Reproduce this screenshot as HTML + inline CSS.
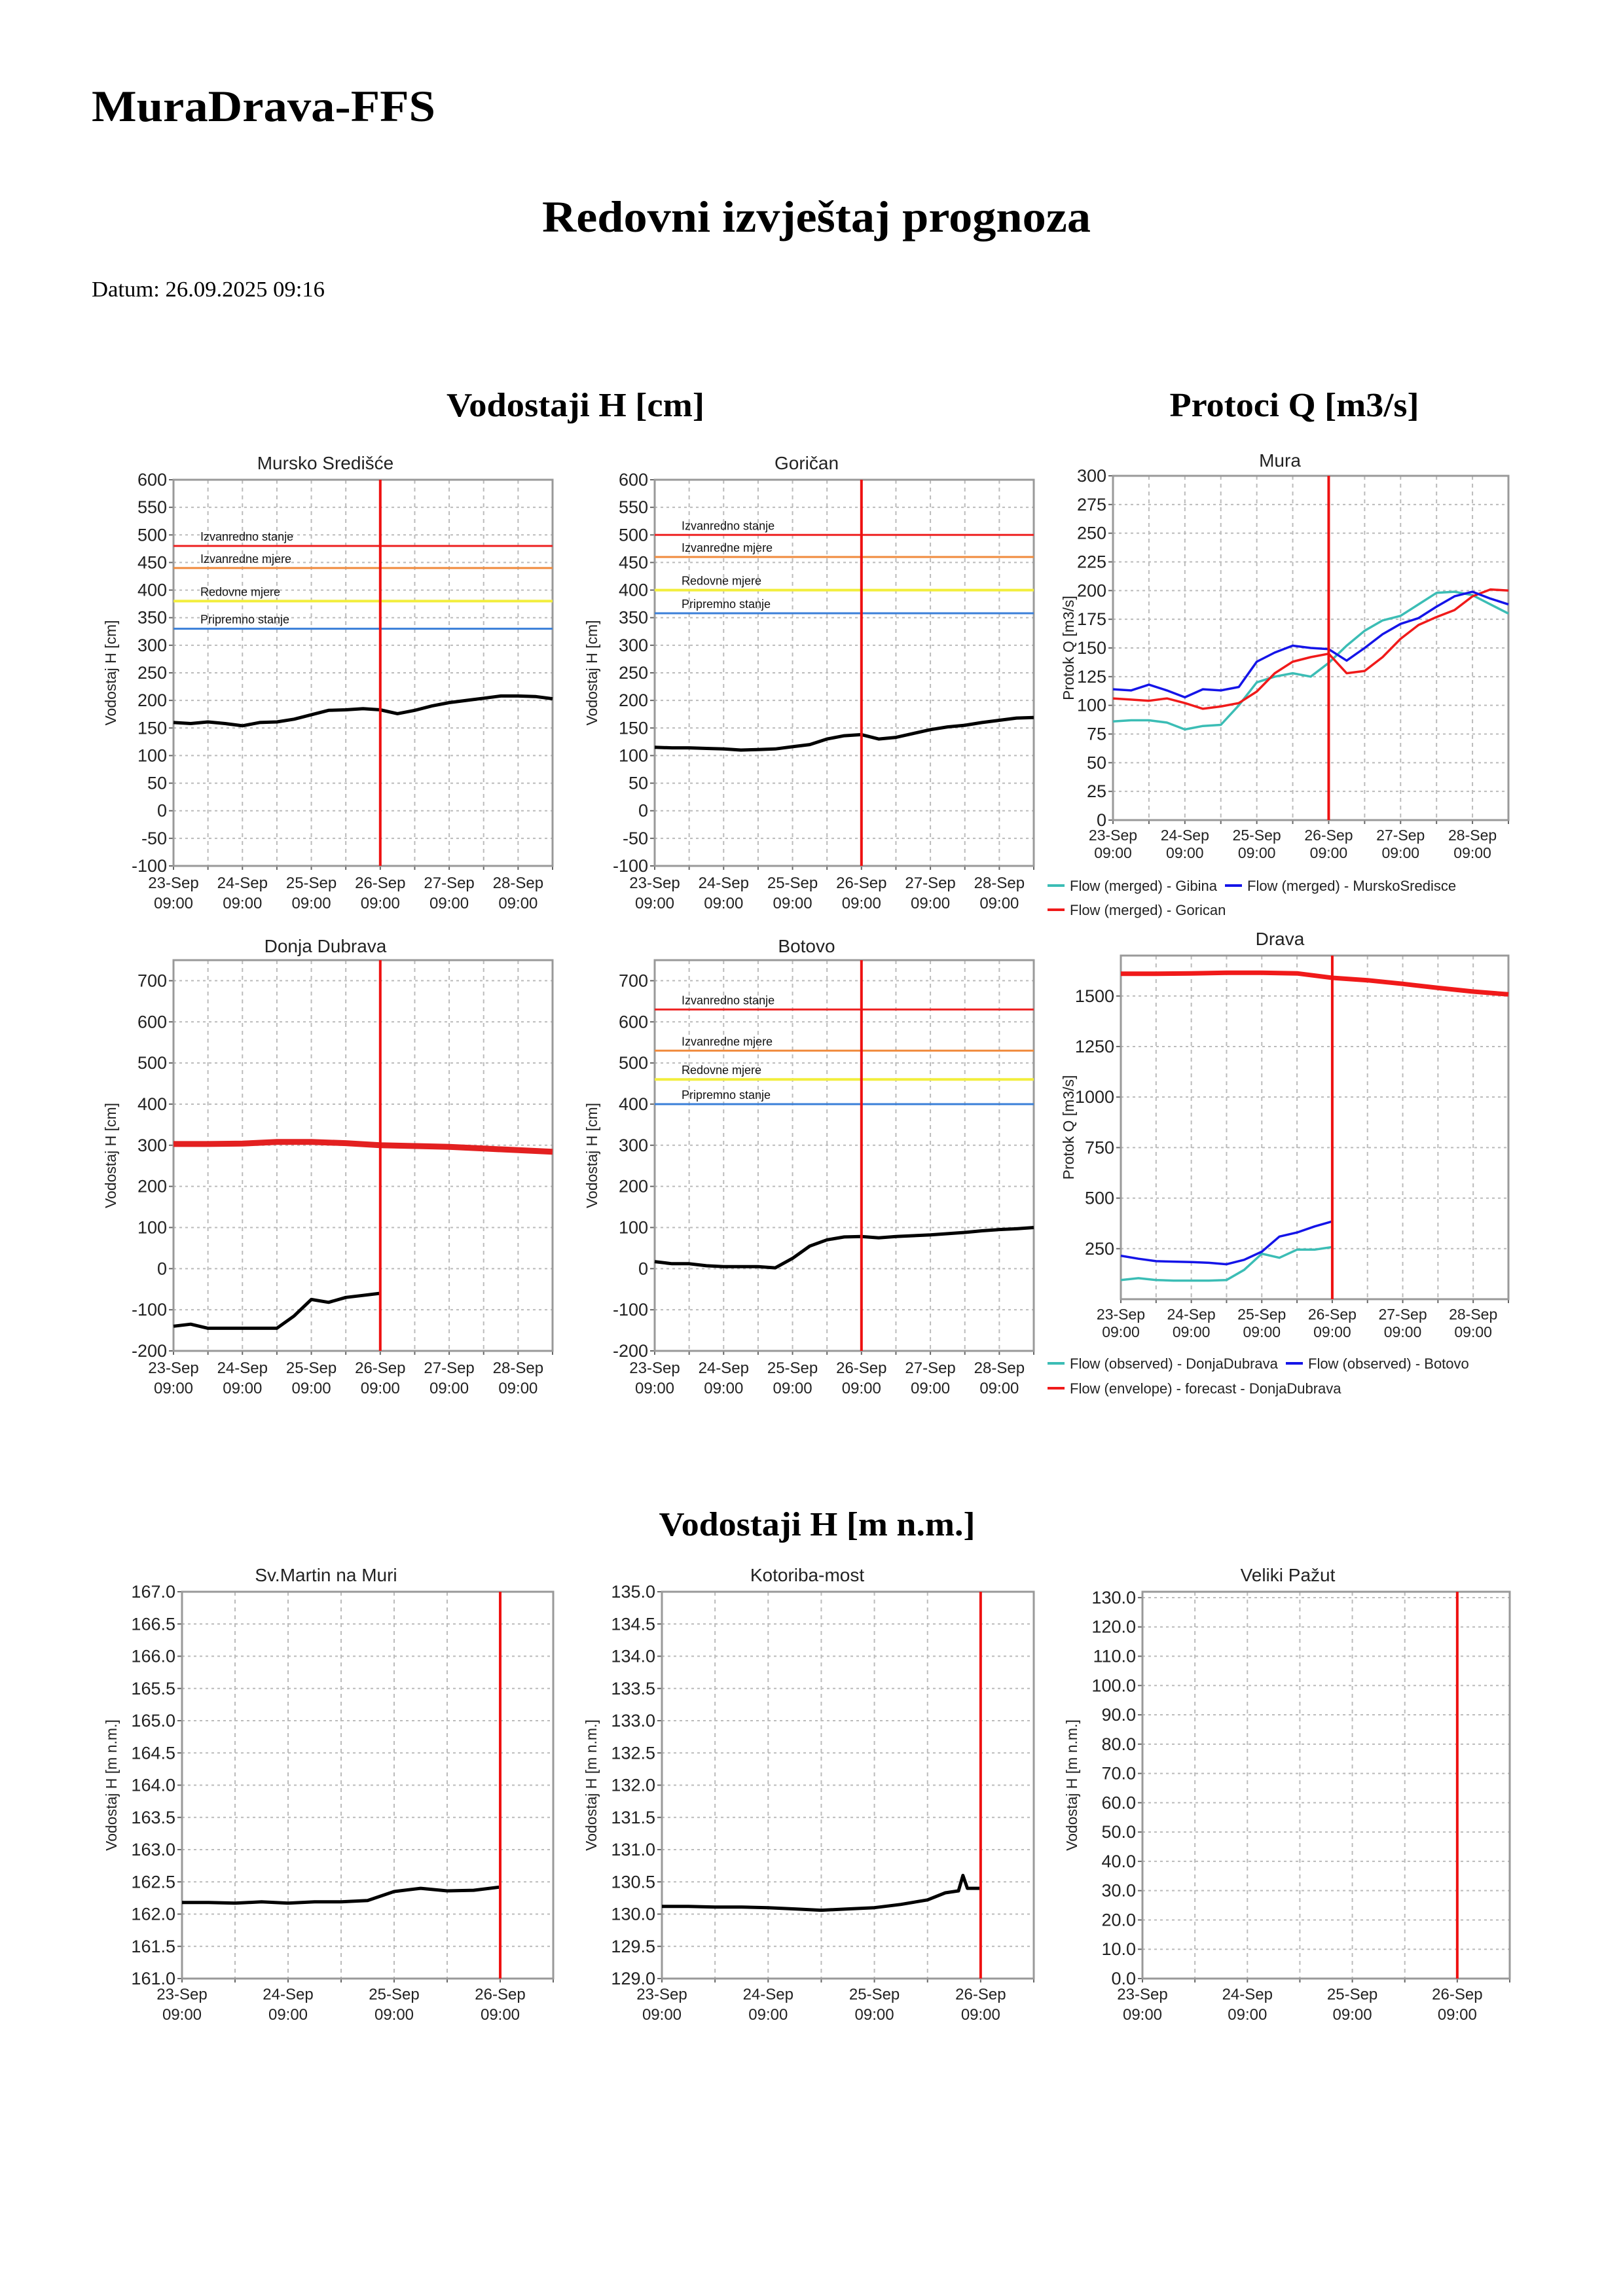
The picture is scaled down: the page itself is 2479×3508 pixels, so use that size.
<!DOCTYPE html>
<html><head><meta charset="utf-8">
<style>
html,body{margin:0;padding:0;background:#fff;}
svg{display:block;}
text{font-family:"Liberation Sans",sans-serif;}
.serif{font-family:"Liberation Serif",serif;font-weight:bold;}
</style></head>
<body>
<svg id="page" xmlns="http://www.w3.org/2000/svg" width="2479" height="3508" viewBox="0 0 2479 3508">
<rect width="2479" height="3508" fill="#fff"/>
<text class="serif" x="140" y="185" font-size="68" textLength="525" lengthAdjust="spacingAndGlyphs">MuraDrava-FFS</text>
<text class="serif" x="1247" y="354" font-size="68" text-anchor="middle" textLength="838" lengthAdjust="spacingAndGlyphs">Redovni izvještaj prognoza</text>
<text x="140" y="453" font-size="34" textLength="356" lengthAdjust="spacingAndGlyphs" style="font-family:'Liberation Serif',serif">Datum: 26.09.2025 09:16</text>
<text class="serif" x="879" y="636" font-size="52" text-anchor="middle" textLength="394" lengthAdjust="spacingAndGlyphs">Vodostaji H [cm]</text>
<text class="serif" x="1977" y="636" font-size="52" text-anchor="middle" textLength="381" lengthAdjust="spacingAndGlyphs">Protoci Q [m3/s]</text>
<text class="serif" x="1248" y="2346" font-size="52" text-anchor="middle" textLength="483" lengthAdjust="spacingAndGlyphs">Vodostaji H [m n.m.]</text>
<g id="charts"></g>
</svg>
<script>
// ---- data (hours since 23-Sep 09:00) ----
const daysTop = ['23-Sep','24-Sep','25-Sep','26-Sep','27-Sep','28-Sep'];
const daysBottom = ['23-Sep','24-Sep','25-Sep','26-Sep'];
const hours6 = [0,6,12,18,24,30,36,42,48,54,60,66,72,78,84,90,96,102,108,114,120,126,132];
const hours6obs = [0,6,12,18,24,30,36,42,48,54,60,66,72];
const hours12 = [0,12,24,36,48,60,72,84,96,108,120,132];

const murskoH = [160,158,161,158,154,160,161,166,174,182,183,185,183,176,182,190,196,200,204,208,208,207,203];
const goricanH = [115,114,114,113,112,110,111,112,116,120,130,136,138,130,133,140,147,152,155,160,164,168,169];
const murskoThresholds = [480,440,380,330];
const goricanThresholds = [500,460,400,358];
const botovoThresholds = [630,530,460,400];
const thresholdNames = ['Izvanredno stanje','Izvanredne mjere','Redovne mjere','Pripremno stanje'];

const muraGibina = [86,87,87,85,79,82,83,100,120,125,128,125,137,152,165,174,178,188,198,199,196,188,180];
const muraMursko = [114,113,118,113,107,114,113,116,138,146,152,150,149,139,150,162,171,176,186,195,199,193,188];
const muraGorican = [106,105,104,106,102,97,99,102,112,128,138,142,145,128,130,142,158,170,177,183,195,201,200];

const donjaObsH = [-140,-135,-145,-145,-145,-145,-145,-115,-75,-82,-70,-65,-60];
const donjaFcH = [303,303,304,308,308,305,300,298,296,292,288,284];
const botovoH = [17,12,12,7,5,5,5,2,25,55,70,77,78,75,78,80,82,85,88,92,95,97,100];

const dravaDonjaObs = [95,104,95,92,92,92,95,145,225,205,245,245,258];
const dravaBotovoObs = [215,200,188,186,184,180,173,195,235,310,330,360,385];
const dravaForecast = [1610,1610,1612,1615,1615,1612,1590,1578,1560,1540,1522,1508];

const svMartinH = [162.18,162.18,162.17,162.19,162.17,162.19,162.19,162.21,162.35,162.40,162.36,162.37,162.42];
const kotoribaHours = [0,6,12,18,24,30,36,42,48,54,60,64,67,68,69,72];
const kotoribaH = [130.12,130.12,130.11,130.11,130.10,130.08,130.06,130.08,130.10,130.15,130.22,130.33,130.36,130.60,130.40,130.40];

const yTicksMursko = [-100,-50,0,50,100,150,200,250,300,350,400,450,500,550,600];
const yTicksDonja = [-200,-100,0,100,200,300,400,500,600,700];
const yTicksMura = [0,25,50,75,100,125,150,175,200,225,250,275,300];
const yTicksDrava = [250,500,750,1000,1250,1500];
const yTicksSv = [161,161.5,162,162.5,163,163.5,164,164.5,165,165.5,166,166.5,167];
const yTicksKot = [129,129.5,130,130.5,131,131.5,132,132.5,133,133.5,134,134.5,135];
const yTicksVel = [0,10,20,30,40,50,60,70,80,90,100,110,120,130];

const NS='http://www.w3.org/2000/svg';
const root=document.getElementById('charts');
function mk(tag,attrs,parent){const e=document.createElementNS(NS,tag);for(const k in attrs)e.setAttribute(k,attrs[k]);(parent||root).appendChild(e);return e;}

function chart(c){
  const g=mk('g',{});
  
  
  const X=h=>c.l+(h/c.xmax)*(c.r-c.l);
  const Y=v=>c.b-(v-c.ymin)/(c.ymax-c.ymin)*(c.b-c.t);
  for(let h=0;h<=c.xmax;h+=12){
    const ln=mk('line',{x1:X(h),x2:X(h),y1:c.t,y2:c.b,stroke:'#bbb','stroke-width':2,'stroke-dasharray':'6,6'},g);
    
    
    const tk=mk('line',{x1:X(h),x2:X(h),y1:c.b,y2:c.b+6,stroke:'#666','stroke-width':2},g);
    
    
  }
  c.yticks.forEach(v=>{
    const ln=mk('line',{x1:c.l,x2:c.r,y1:Y(v),y2:Y(v),stroke:'#bbb','stroke-width':2,'stroke-dasharray':'4,5'},g);
    
    
    mk('line',{x1:c.l-7,x2:c.l,y1:Y(v),y2:Y(v),stroke:'#666','stroke-width':2},g);
    const t=mk('text',{x:c.l-10,y:Y(v)+9,'font-size':27,'text-anchor':'end',fill:'#222'},g);
    
    
    t.textContent=c.fmt?c.fmt(v):String(v);
  });
  const fr=mk('rect',{x:c.l,y:c.t,width:c.r-c.l,height:c.b-c.t,fill:'none',stroke:'#999','stroke-width':3},g);
  
  
  c.days.forEach((d,i)=>{
    const x=X(i*24);
    const t1=mk('text',{x:x,y:c.b+c.xl1,'font-size':c.xfs,'text-anchor':'middle',fill:'#222'},g);
    
    
    t1.textContent=d;
    const t2=mk('text',{x:x,y:c.b+c.xl2,'font-size':c.xfs,'text-anchor':'middle',fill:'#222'},g);
    
    
    t2.textContent='09:00';
  });
  const tt=mk('text',{x:c.tx,y:c.ty,'font-size':28,'text-anchor':'middle',fill:'#222'},g);
  
  
  tt.textContent=c.title;
  const yt=mk('text',{x:0,y:0,'font-size':23,'text-anchor':'middle',fill:'#222',transform:`translate(${c.l-c.yto},${(c.t+c.b)/2}) rotate(-90)`},g);
  
  
  yt.textContent=c.ytitle;
  if(c.th){
    const cols=['#ee2222','#f08a3c','#f2ee3c','#3a7fd8'];
    c.th.forEach((v,i)=>{
      const ln=mk('line',{x1:c.l,x2:c.r,y1:Y(v),y2:Y(v),stroke:cols[i],'stroke-width':i==2?4:3},g);
      
      
      const t=mk('text',{x:c.l+41,y:Y(v)-8,'font-size':18,fill:'#111'},g);
      
      
      t.textContent=thresholdNames[i];
    });
  }
  c.series.forEach(s=>{
    const pts=s.h.map((h,i)=>X(h).toFixed(1)+','+Y(s.v[i]).toFixed(1)).join(' ');
    const pl=mk('polyline',{points:pts,fill:'none',stroke:s.col,'stroke-width':s.w,'stroke-linejoin':'round'},g);
    
    
  });
  const nl=mk('line',{x1:X(72),x2:X(72),y1:c.t,y2:c.b,stroke:'#ee1111','stroke-width':4},g);
  
  
}

const topH={xmax:132,days:daysTop,xl1:34,xl2:65,xfs:24};
chart(Object.assign({name:'chart-mursko-sredisce',l:265,r:844,t:733,b:1323,ymin:-100,ymax:600,yticks:yTicksMursko,title:'Mursko Središće',tx:497,ty:717,ytitle:'Vodostaj H [cm]',yto:88,th:murskoThresholds,
  series:[{name:'series-mursko-h',h:hours6,v:murskoH,col:'#000',w:5}]},topH));
chart(Object.assign({name:'chart-gorican',l:1000,r:1579,t:733,b:1323,ymin:-100,ymax:600,yticks:yTicksMursko,title:'Goričan',tx:1232,ty:717,ytitle:'Vodostaj H [cm]',yto:88,th:goricanThresholds,
  series:[{name:'series-gorican-h',h:hours6,v:goricanH,col:'#000',w:5}]},topH));
chart(Object.assign({name:'chart-mura-flow',l:1700,r:2304,t:727,b:1253,ymin:0,ymax:300,yticks:yTicksMura,title:'Mura',tx:1955,ty:713,ytitle:'Protok Q [m3/s]',yto:60,
  series:[{name:'series-gibina',h:hours6,v:muraGibina,col:'#3bbdb5',w:3.5},{name:'series-gorican-q',h:hours6,v:muraGorican,col:'#f01a1a',w:3.5},{name:'series-murskosredisce-q',h:hours6,v:muraMursko,col:'#1414e8',w:3.5}]},{xmax:132,days:daysTop,xl1:31,xl2:58,xfs:23}));
chart(Object.assign({name:'chart-donja-dubrava',l:265,r:844,t:1467,b:2064,ymin:-200,ymax:750,yticks:yTicksDonja,title:'Donja Dubrava',tx:497,ty:1455,ytitle:'Vodostaj H [cm]',yto:88,
  series:[{name:'series-donja-forecast',h:hours12,v:donjaFcH,col:'#e32020',w:9},{name:'series-donja-observed',h:hours6obs,v:donjaObsH,col:'#000',w:5}]},topH));
chart(Object.assign({name:'chart-botovo',l:1000,r:1579,t:1467,b:2064,ymin:-200,ymax:750,yticks:yTicksDonja,title:'Botovo',tx:1232,ty:1455,ytitle:'Vodostaj H [cm]',yto:88,th:botovoThresholds,
  series:[{name:'series-botovo-h',h:hours6,v:botovoH,col:'#000',w:5}]},topH));
chart(Object.assign({name:'chart-drava-flow',l:1712,r:2304,t:1460,b:1985,ymin:0,ymax:1700,yticks:yTicksDrava,title:'Drava',tx:1955,ty:1444,ytitle:'Protok Q [m3/s]',yto:72,
  series:[{name:'series-drava-forecast',h:hours12,v:dravaForecast,col:'#f01a1a',w:7},{name:'series-donja-q-obs',h:hours6obs,v:dravaDonjaObs,col:'#3bbdb5',w:3.5},{name:'series-botovo-q-obs',h:hours6obs,v:dravaBotovoObs,col:'#1414e8',w:3.5}]},{xmax:132,days:daysTop,xl1:31,xl2:58,xfs:23}));
const bot={xmax:84,days:daysBottom,xl1:32,xl2:63,xfs:24,t:2432,b:3023};
chart(Object.assign({name:'chart-sv-martin',l:278,r:845,ymin:161,ymax:167,yticks:yTicksSv,fmt:v=>v.toFixed(1),title:'Sv.Martin na Muri',tx:498,ty:2416,ytitle:'Vodostaj H [m n.m.]',yto:100,
  series:[{name:'series-svmartin-h',h:hours6obs,v:svMartinH,col:'#000',w:5}]},bot));
chart(Object.assign({name:'chart-kotoriba',l:1011,r:1579,ymin:129,ymax:135,yticks:yTicksKot,fmt:v=>v.toFixed(1),title:'Kotoriba-most',tx:1233,ty:2416,ytitle:'Vodostaj H [m n.m.]',yto:100,
  series:[{name:'series-kotoriba-h',h:kotoribaHours,v:kotoribaH,col:'#000',w:5}]},bot));
chart(Object.assign({name:'chart-veliki-pazut',l:1745,r:2306,ymin:0,ymax:132,yticks:yTicksVel,fmt:v=>v.toFixed(1),title:'Veliki Pažut',tx:1967,ty:2416,ytitle:'Vodostaj H [m n.m.]',yto:100,
  series:[]},bot));

function legend(x,y,col,label,w){
  const l=mk('line',{x1:x,x2:x+26,y1:y,y2:y,stroke:col,'stroke-width':w});
  
  
  const t=mk('text',{x:x+34,y:y+8,'font-size':22,fill:'#222'});
  
  
  t.textContent=label;
}
legend(1600,1353,'#3bbdb5','Flow (merged) - Gibina',4);
legend(1871,1353,'#1414e8','Flow (merged) - MurskoSredisce',4);
legend(1600,1390,'#f01a1a','Flow (merged) - Gorican',4);
legend(1600,2083,'#3bbdb5','Flow (observed) - DonjaDubrava',4);
legend(1964,2083,'#1414e8','Flow (observed) - Botovo',4);
legend(1600,2121,'#f01a1a','Flow (envelope) - forecast - DonjaDubrava',4);
</script>
</body></html>
